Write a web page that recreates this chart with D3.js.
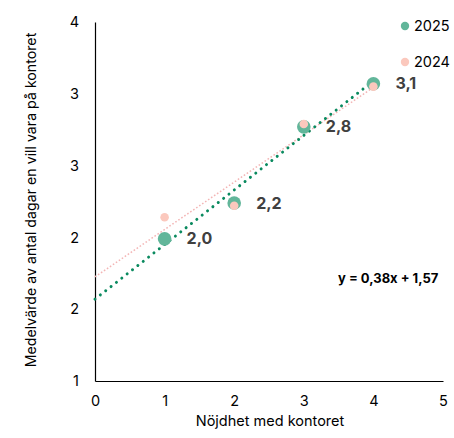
<!DOCTYPE html>
<html>
<head>
<meta charset="utf-8">
<script src="https://cdn.jsdelivr.net/npm/d3@7"></script>
<style>
  html, body { margin: 0; padding: 0; background: #fff; }
  svg { display: block; font-family: "Inter", "Liberation Sans", sans-serif; }
</style>
</head>
<body>
<svg id="chart" width="454" height="438"></svg>
<script>
// Satisfaction score (x) and average number of office days wanted (y)
const categories = [1, 2, 3, 4];
const values2025 = [1.99, 2.24, 2.77, 3.07];
const values2024 = [2.14, 2.22, 2.79, 3.05];
const seriesNames = ["2025", "2024"];
const xTicks = [0, 1, 2, 3, 4, 5];
const yTicks = [1, 1.5, 2, 2.5, 3, 3.5];
// Linear trend for 2025, as stated in the equation label
const trend2025 = { slope: 0.38, intercept: 1.57 };

const svg = d3.select("#chart");
const x = d3.scaleLinear().domain([0, 5]).range([95, 443]);
const y = d3.scaleLinear().domain([1, 3.5]).range([381, 22]);

const green = "#62b69a", greenLine = "#0a8a5f";
const pink = "#fbc8bd", pinkLine = "#f3b5b5";

// Excel-style rounding to whole numbers (half away from zero)
const fmtTick = v => String(Math.round(v + 1e-9));
const fmtVal = v => d3.format(".1f")(v).replace(".", ",");

// least squares fit for the 2024 series
function fit(xs, ys) {
  const mx = d3.mean(xs), my = d3.mean(ys);
  const sxy = d3.sum(xs, (d, i) => (d - mx) * (ys[i] - my));
  const sxx = d3.sum(xs, d => (d - mx) * (d - mx));
  const slope = sxy / sxx;
  return { slope, intercept: my - slope * mx };
}
const trend2024 = fit(categories, values2024);

// axes
const xAxis = svg.append("g").attr("transform", `translate(0,${y(1)})`)
  .call(d3.axisBottom(x).tickValues(xTicks).tickSize(0).tickPadding(15).tickFormat(d3.format("d")));
const yAxis = svg.append("g").attr("transform", `translate(${x(0)},0)`)
  .call(d3.axisLeft(y).tickValues(yTicks).tickSize(0).tickPadding(16).tickFormat(fmtTick));
[xAxis, yAxis].forEach(g => {
  g.select(".domain").attr("stroke", "#000").attr("stroke-width", 1.2);
  g.selectAll("text").attr("font-size", 14.5).attr("fill", "#000")
    .attr("font-family", "Inter, 'Liberation Sans', sans-serif");
});

// axis titles
svg.append("text")
  .attr("x", 270).attr("y", 426).attr("text-anchor", "middle")
  .attr("font-size", 14.5).attr("fill", "#000")
  .text("Nöjdhet med kontoret");
svg.append("text")
  .attr("transform", `translate(36,200) rotate(-90)`)
  .attr("text-anchor", "middle")
  .attr("font-size", 14.2).attr("fill", "#000")
  .text("Medelvärde av antal dagar en vill vara på kontoret");

// trend lines from x = 0 to the last category
function trendPath(t) {
  const x0 = 0, x1 = d3.max(categories);
  return d3.line()([[x(x0), y(t.intercept + t.slope * x0)], [x(x1), y(t.intercept + t.slope * x1)]]);
}
svg.append("path").attr("d", trendPath(trend2024))
  .attr("fill", "none").attr("stroke", pinkLine).attr("stroke-width", 1.5)
  .attr("stroke-dasharray", "1.6 2");
svg.append("path").attr("d", trendPath(trend2025))
  .attr("fill", "none").attr("stroke", greenLine).attr("stroke-width", 3)
  .attr("stroke-linecap", "round").attr("stroke-dasharray", "0.01 6.8");

// markers
svg.append("g").selectAll("circle").data(categories).join("circle")
  .attr("cx", d => x(d)).attr("cy", (d, i) => y(values2025[i]))
  .attr("r", 6.8).attr("fill", green);
svg.append("g").selectAll("circle").data(categories).join("circle")
  .attr("cx", d => x(d)).attr("cy", (d, i) => y(values2024[i]))
  .attr("r", 4.3).attr("fill", pink);

// value labels for 2025
svg.append("g").selectAll("text").data(categories).join("text")
  .attr("x", d => x(d) + 22).attr("y", (d, i) => y(values2025[i]))
  .attr("dy", "0.35em")
  .attr("font-size", 16).attr("font-weight", 700).attr("fill", "#404040")
  .text((d, i) => fmtVal(values2025[i]));

// equation label
svg.append("text")
  .attr("x", 338).attr("y", 278).attr("dy", "0.35em")
  .attr("font-size", 13).attr("font-weight", 700).attr("fill", "#000")
  .text(`y = ${String(trend2025.slope).replace(".", ",")}x + ${String(trend2025.intercept).replace(".", ",")}`);

// legend
const legend = svg.append("g");
[[seriesNames[0], green, 26], [seriesNames[1], pink, 62]].forEach(([name, col, ly]) => {
  legend.append("circle").attr("cx", 405).attr("cy", ly).attr("r", 4.2).attr("fill", col);
  legend.append("text").attr("x", 414).attr("y", ly).attr("dy", "0.35em")
    .attr("font-size", 14.5).attr("fill", "#000").text(name);
});
</script>
</body>
</html>
